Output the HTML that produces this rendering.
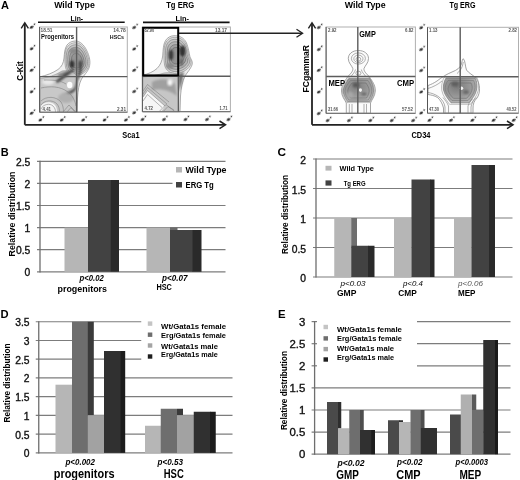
<!DOCTYPE html>
<html><head><meta charset="utf-8"><style>
html,body{margin:0;padding:0;background:#fff;}
body{width:520px;height:480px;overflow:hidden;}
svg{display:block;font-family:"Liberation Sans", sans-serif;filter:blur(0.3px);}
</style></head><body>
<svg width="520" height="480" viewBox="0 0 520 480">
<rect width="520" height="480" fill="#fff"/>
<text x="0.80" y="156.00" font-size="11" font-weight="bold" text-anchor="start" fill="#000" >B</text>
<line x1="37.00" y1="271.80" x2="225.50" y2="271.80" stroke="#7c7c7c" stroke-width="1.2" />
<text x="30.30" y="276.20" font-size="10.3" font-weight="normal" text-anchor="end" fill="#111" stroke="#111" stroke-width="0.35">0</text>
<line x1="37.00" y1="249.70" x2="225.50" y2="249.70" stroke="#7c7c7c" stroke-width="1.2" />
<text x="30.30" y="254.10" font-size="10.3" font-weight="normal" text-anchor="end" fill="#111" stroke="#111" stroke-width="0.35">0.5</text>
<line x1="37.00" y1="227.60" x2="225.50" y2="227.60" stroke="#7c7c7c" stroke-width="1.2" />
<text x="30.30" y="232.00" font-size="10.3" font-weight="normal" text-anchor="end" fill="#111" stroke="#111" stroke-width="0.35">1</text>
<line x1="37.00" y1="205.50" x2="225.50" y2="205.50" stroke="#7c7c7c" stroke-width="1.2" />
<text x="30.30" y="209.90" font-size="10.3" font-weight="normal" text-anchor="end" fill="#111" stroke="#111" stroke-width="0.35">1.5</text>
<line x1="37.00" y1="183.40" x2="172.50" y2="183.40" stroke="#7c7c7c" stroke-width="1.2" />
<text x="30.30" y="187.80" font-size="10.3" font-weight="normal" text-anchor="end" fill="#111" stroke="#111" stroke-width="0.35">2</text>
<line x1="37.00" y1="161.30" x2="225.50" y2="161.30" stroke="#7c7c7c" stroke-width="1.2" />
<text x="30.30" y="165.70" font-size="10.3" font-weight="normal" text-anchor="end" fill="#111" stroke="#111" stroke-width="0.35">2.5</text>
<line x1="40.00" y1="160.70" x2="40.00" y2="272.40" stroke="#6e6e6e" stroke-width="1.3" />
<text x="15.30" y="214.00" font-size="9" font-weight="bold" text-anchor="middle" fill="#000" textLength="85" lengthAdjust="spacingAndGlyphs" transform="rotate(-90 15.30 214.00)" >Relative distribution</text>
<rect x="64.50" y="227.60" width="23.50" height="44.20" fill="#b6b6b6" />
<rect x="88.00" y="180.00" width="23.00" height="91.80" fill="#424242" />
<rect x="110.75" y="180.00" width="8.25" height="91.80" fill="#2a2a2a" />
<rect x="146.50" y="227.60" width="23.50" height="44.20" fill="#b6b6b6" />
<rect x="170.00" y="227.60" width="7.50" height="2.40" fill="#6a6a6a" />
<rect x="170.00" y="230.00" width="23.00" height="41.80" fill="#424242" />
<rect x="192.50" y="230.00" width="9.00" height="41.80" fill="#2a2a2a" />
<rect x="176.00" y="167.00" width="6.00" height="5.50" fill="#b6b6b6" />
<rect x="176.00" y="182.00" width="6.00" height="5.50" fill="#424242" />
<text x="185.50" y="173.30" font-size="9.3" font-weight="bold" text-anchor="start" fill="#000" textLength="41" lengthAdjust="spacingAndGlyphs" >Wild Type</text>
<text x="185.50" y="188.30" font-size="9.3" font-weight="bold" text-anchor="start" fill="#000" textLength="28.3" lengthAdjust="spacingAndGlyphs" >ERG Tg</text>
<text x="79.50" y="281.00" font-size="8.4" font-weight="bold" text-anchor="start" fill="#000" textLength="24.3" lengthAdjust="spacingAndGlyphs" font-style="italic" >p&lt;0.02</text>
<text x="57.50" y="292.00" font-size="9.6" font-weight="bold" text-anchor="start" fill="#000" textLength="49.5" lengthAdjust="spacingAndGlyphs" >progenitors</text>
<text x="162.00" y="281.00" font-size="8.4" font-weight="bold" text-anchor="start" fill="#000" textLength="25.5" lengthAdjust="spacingAndGlyphs" font-style="italic" >p&lt;0.07</text>
<text x="156.40" y="290.20" font-size="9.2" font-weight="bold" text-anchor="start" fill="#000" textLength="15.5" lengthAdjust="spacingAndGlyphs" >HSC</text>
<text x="277.60" y="156.20" font-size="11.8" font-weight="bold" text-anchor="start" fill="#000" >C</text>
<line x1="313.00" y1="277.00" x2="512.50" y2="277.00" stroke="#7c7c7c" stroke-width="1.2" />
<text x="306.00" y="282.00" font-size="10.3" font-weight="normal" text-anchor="end" fill="#111" stroke="#111" stroke-width="0.35">0</text>
<line x1="313.00" y1="247.50" x2="512.50" y2="247.50" stroke="#7c7c7c" stroke-width="1.2" />
<text x="306.00" y="252.50" font-size="10.3" font-weight="normal" text-anchor="end" fill="#111" stroke="#111" stroke-width="0.35">0.5</text>
<line x1="313.00" y1="218.00" x2="512.50" y2="218.00" stroke="#7c7c7c" stroke-width="1.2" />
<text x="306.00" y="223.00" font-size="10.3" font-weight="normal" text-anchor="end" fill="#111" stroke="#111" stroke-width="0.35">1</text>
<line x1="313.00" y1="188.50" x2="512.50" y2="188.50" stroke="#7c7c7c" stroke-width="1.2" />
<text x="306.00" y="193.50" font-size="10.3" font-weight="normal" text-anchor="end" fill="#111" stroke="#111" stroke-width="0.35">1.5</text>
<line x1="313.00" y1="159.00" x2="512.50" y2="159.00" stroke="#7c7c7c" stroke-width="1.2" />
<text x="306.00" y="164.00" font-size="10.3" font-weight="normal" text-anchor="end" fill="#111" stroke="#111" stroke-width="0.35">2</text>
<line x1="316.00" y1="158.40" x2="316.00" y2="277.60" stroke="#6e6e6e" stroke-width="1.3" />
<text x="287.80" y="214.40" font-size="9" font-weight="bold" text-anchor="middle" fill="#000" textLength="79" lengthAdjust="spacingAndGlyphs" transform="rotate(-90 287.80 214.40)" >Relative distribution</text>
<rect x="334.25" y="218.00" width="17.25" height="59.00" fill="#b6b6b6" />
<rect x="351.25" y="218.00" width="5.75" height="28.00" fill="#6e6e6e" />
<rect x="351.25" y="245.75" width="17.25" height="31.25" fill="#424242" />
<rect x="368.00" y="245.75" width="6.50" height="31.25" fill="#2a2a2a" />
<rect x="394.00" y="218.00" width="17.75" height="59.00" fill="#b6b6b6" />
<rect x="411.50" y="179.50" width="19.00" height="97.50" fill="#424242" />
<rect x="430.00" y="179.50" width="4.50" height="97.50" fill="#2a2a2a" />
<rect x="454.00" y="218.00" width="17.75" height="59.00" fill="#b6b6b6" />
<rect x="471.50" y="165.00" width="18.00" height="112.00" fill="#424242" />
<rect x="489.00" y="165.00" width="6.00" height="112.00" fill="#2a2a2a" />
<rect x="325.50" y="165.80" width="6.00" height="4.80" fill="#b6b6b6" />
<rect x="325.50" y="180.40" width="6.00" height="5.20" fill="#424242" />
<text x="339.60" y="171.10" font-size="7.3" font-weight="bold" text-anchor="start" fill="#000" textLength="34.3" lengthAdjust="spacingAndGlyphs" >Wild Type</text>
<text x="343.70" y="185.60" font-size="7.3" font-weight="bold" text-anchor="start" fill="#000" textLength="21.9" lengthAdjust="spacingAndGlyphs" >Tg ERG</text>
<text x="340.50" y="286.40" font-size="7.6" font-weight="normal" text-anchor="start" fill="#000" textLength="25" lengthAdjust="spacingAndGlyphs" font-style="italic" >p&lt;0.03</text>
<text x="336.90" y="295.50" font-size="9.6" font-weight="bold" text-anchor="start" fill="#000" textLength="19.5" lengthAdjust="spacingAndGlyphs" >GMP</text>
<text x="402.90" y="286.00" font-size="7.6" font-weight="normal" text-anchor="start" fill="#000" textLength="20" lengthAdjust="spacingAndGlyphs" font-style="italic" >p&lt;0.4</text>
<text x="398.30" y="296.20" font-size="9.6" font-weight="bold" text-anchor="start" fill="#000" textLength="18.5" lengthAdjust="spacingAndGlyphs" >CMP</text>
<text x="458.00" y="286.00" font-size="7.6" font-weight="normal" text-anchor="start" fill="#555" textLength="25" lengthAdjust="spacingAndGlyphs" font-style="italic" >p&lt;0.06</text>
<text x="458.00" y="296.20" font-size="9.6" font-weight="bold" text-anchor="start" fill="#000" textLength="17.5" lengthAdjust="spacingAndGlyphs" >MEP</text>
<text x="0.60" y="318.00" font-size="11.2" font-weight="bold" text-anchor="start" fill="#000" >D</text>
<line x1="35.75" y1="452.90" x2="232.50" y2="452.90" stroke="#7c7c7c" stroke-width="1.2" />
<text x="29.60" y="457.30" font-size="10.3" font-weight="normal" text-anchor="end" fill="#111" stroke="#111" stroke-width="0.35">0</text>
<line x1="35.75" y1="434.16" x2="232.50" y2="434.16" stroke="#7c7c7c" stroke-width="1.2" />
<text x="29.60" y="438.56" font-size="10.3" font-weight="normal" text-anchor="end" fill="#111" stroke="#111" stroke-width="0.35">0.5</text>
<line x1="35.75" y1="415.43" x2="232.50" y2="415.43" stroke="#7c7c7c" stroke-width="1.2" />
<text x="29.60" y="419.83" font-size="10.3" font-weight="normal" text-anchor="end" fill="#111" stroke="#111" stroke-width="0.35">1</text>
<line x1="35.75" y1="396.69" x2="232.50" y2="396.69" stroke="#7c7c7c" stroke-width="1.2" />
<text x="29.60" y="401.09" font-size="10.3" font-weight="normal" text-anchor="end" fill="#111" stroke="#111" stroke-width="0.35">1.5</text>
<line x1="35.75" y1="377.96" x2="232.50" y2="377.96" stroke="#7c7c7c" stroke-width="1.2" />
<text x="29.60" y="382.36" font-size="10.3" font-weight="normal" text-anchor="end" fill="#111" stroke="#111" stroke-width="0.35">2</text>
<line x1="35.75" y1="359.22" x2="141.25" y2="359.22" stroke="#7c7c7c" stroke-width="1.2" />
<text x="29.60" y="363.62" font-size="10.3" font-weight="normal" text-anchor="end" fill="#111" stroke="#111" stroke-width="0.35">2.5</text>
<line x1="35.75" y1="340.49" x2="141.25" y2="340.49" stroke="#7c7c7c" stroke-width="1.2" />
<text x="29.60" y="344.89" font-size="10.3" font-weight="normal" text-anchor="end" fill="#111" stroke="#111" stroke-width="0.35">3</text>
<line x1="35.75" y1="321.75" x2="141.25" y2="321.75" stroke="#7c7c7c" stroke-width="1.2" />
<text x="29.60" y="326.15" font-size="10.3" font-weight="normal" text-anchor="end" fill="#111" stroke="#111" stroke-width="0.35">3.5</text>
<line x1="38.75" y1="321.15" x2="38.75" y2="453.50" stroke="#6e6e6e" stroke-width="1.3" />
<text x="10.30" y="383.00" font-size="9" font-weight="bold" text-anchor="middle" fill="#000" textLength="79" lengthAdjust="spacingAndGlyphs" transform="rotate(-90 10.30 383.00)" >Relative distribution</text>
<rect x="55.50" y="384.70" width="16.50" height="68.20" fill="#b6b6b6" />
<rect x="72.00" y="321.75" width="16.00" height="131.14" fill="#6e6e6e" />
<rect x="87.80" y="321.75" width="6.00" height="93.75" fill="#3a3a3a" />
<rect x="87.80" y="415.20" width="16.20" height="37.70" fill="#a2a2a2" />
<rect x="104.00" y="351.00" width="17.00" height="101.90" fill="#303030" />
<rect x="120.60" y="351.00" width="4.60" height="101.90" fill="#1c1c1c" />
<rect x="145.00" y="425.75" width="16.00" height="27.15" fill="#b6b6b6" />
<rect x="160.75" y="408.75" width="16.25" height="44.15" fill="#6e6e6e" />
<rect x="177.00" y="408.75" width="6.00" height="6.45" fill="#3a3a3a" />
<rect x="177.00" y="415.20" width="17.00" height="37.70" fill="#a2a2a2" />
<rect x="193.75" y="411.75" width="16.75" height="41.15" fill="#303030" />
<rect x="210.00" y="411.75" width="5.75" height="41.15" fill="#1c1c1c" />
<rect x="147.80" y="321.40" width="4.50" height="4.40" fill="#c4c4c4" />
<text x="161.10" y="328.50" font-size="7.7" font-weight="bold" text-anchor="start" fill="#000" textLength="64.9" lengthAdjust="spacingAndGlyphs" >Wt/Gata1s female</text>
<rect x="147.80" y="332.50" width="4.50" height="4.40" fill="#6e6e6e" />
<text x="161.10" y="337.80" font-size="7.7" font-weight="bold" text-anchor="start" fill="#000" textLength="64.9" lengthAdjust="spacingAndGlyphs" >Erg/Gata1s female</text>
<rect x="147.80" y="343.30" width="4.50" height="4.40" fill="#a4a4a4" />
<text x="161.10" y="348.70" font-size="7.7" font-weight="bold" text-anchor="start" fill="#000" textLength="56.8" lengthAdjust="spacingAndGlyphs" >Wt/Gata1s male</text>
<rect x="147.80" y="354.30" width="4.50" height="4.40" fill="#1e1e1e" />
<text x="161.10" y="357.40" font-size="7.7" font-weight="bold" text-anchor="start" fill="#000" textLength="56.8" lengthAdjust="spacingAndGlyphs" >Erg/Gata1s male</text>
<text x="65.50" y="464.50" font-size="8.4" font-weight="bold" text-anchor="start" fill="#000" textLength="29.5" lengthAdjust="spacingAndGlyphs" font-style="italic" >p&lt;0.002</text>
<text x="53.75" y="478.00" font-size="12.5" font-weight="bold" text-anchor="start" fill="#000" textLength="60.75" lengthAdjust="spacingAndGlyphs" >progenitors</text>
<text x="157.50" y="465.00" font-size="8.4" font-weight="bold" text-anchor="start" fill="#000" textLength="25.5" lengthAdjust="spacingAndGlyphs" font-style="italic" >p&lt;0.53</text>
<text x="163.75" y="477.50" font-size="12.5" font-weight="bold" text-anchor="start" fill="#000" textLength="20" lengthAdjust="spacingAndGlyphs" >HSC</text>
<text x="278.00" y="318.00" font-size="11.4" font-weight="bold" text-anchor="start" fill="#000" >E</text>
<line x1="311.60" y1="454.20" x2="510.50" y2="454.20" stroke="#7c7c7c" stroke-width="1.2" />
<text x="305.30" y="458.40" font-size="11.4" font-weight="normal" text-anchor="end" fill="#111" stroke="#111" stroke-width="0.35">0</text>
<line x1="311.60" y1="432.10" x2="510.50" y2="432.10" stroke="#7c7c7c" stroke-width="1.2" />
<text x="305.30" y="436.30" font-size="11.4" font-weight="normal" text-anchor="end" fill="#111" stroke="#111" stroke-width="0.35">0.5</text>
<line x1="311.60" y1="410.00" x2="510.50" y2="410.00" stroke="#7c7c7c" stroke-width="1.2" />
<text x="305.30" y="414.20" font-size="11.4" font-weight="normal" text-anchor="end" fill="#111" stroke="#111" stroke-width="0.35">1</text>
<line x1="311.60" y1="387.90" x2="510.50" y2="387.90" stroke="#7c7c7c" stroke-width="1.2" />
<text x="305.30" y="392.10" font-size="11.4" font-weight="normal" text-anchor="end" fill="#111" stroke="#111" stroke-width="0.35">1.5</text>
<line x1="311.60" y1="365.80" x2="317.00" y2="365.80" stroke="#7c7c7c" stroke-width="1.2" />
<line x1="417.00" y1="365.80" x2="510.50" y2="365.80" stroke="#7c7c7c" stroke-width="1.2" />
<text x="305.30" y="370.00" font-size="11.4" font-weight="normal" text-anchor="end" fill="#111" stroke="#111" stroke-width="0.35">2</text>
<line x1="311.60" y1="343.70" x2="317.00" y2="343.70" stroke="#7c7c7c" stroke-width="1.2" />
<line x1="417.00" y1="343.70" x2="510.50" y2="343.70" stroke="#7c7c7c" stroke-width="1.2" />
<text x="305.30" y="347.90" font-size="11.4" font-weight="normal" text-anchor="end" fill="#111" stroke="#111" stroke-width="0.35">2.5</text>
<line x1="311.60" y1="321.60" x2="317.00" y2="321.60" stroke="#7c7c7c" stroke-width="1.2" />
<line x1="417.00" y1="321.60" x2="510.50" y2="321.60" stroke="#7c7c7c" stroke-width="1.2" />
<text x="305.30" y="325.80" font-size="11.4" font-weight="normal" text-anchor="end" fill="#111" stroke="#111" stroke-width="0.35">3</text>
<line x1="314.60" y1="321.00" x2="314.60" y2="454.80" stroke="#6e6e6e" stroke-width="1.3" />
<text x="287.50" y="390.60" font-size="9" font-weight="bold" text-anchor="middle" fill="#000" textLength="79" lengthAdjust="spacingAndGlyphs" transform="rotate(-90 287.50 390.60)" >Relative distribution</text>
<rect x="327.00" y="402.00" width="11.50" height="52.20" fill="#4a4a4a" />
<rect x="338.00" y="402.00" width="3.25" height="26.50" fill="#2e2e2e" />
<rect x="338.00" y="428.25" width="11.50" height="25.95" fill="#b6b6b6" />
<rect x="349.25" y="410.00" width="11.25" height="44.20" fill="#6e6e6e" />
<rect x="360.00" y="410.00" width="3.75" height="20.00" fill="#4e4e4e" />
<rect x="360.00" y="430.00" width="15.00" height="24.20" fill="#303030" />
<rect x="371.25" y="430.00" width="3.75" height="24.20" fill="#1e1e1e" />
<rect x="388.00" y="420.25" width="11.50" height="33.95" fill="#4a4a4a" />
<rect x="399.00" y="420.25" width="4.00" height="1.75" fill="#2e2e2e" />
<rect x="399.00" y="422.00" width="11.75" height="32.20" fill="#b6b6b6" />
<rect x="410.50" y="410.00" width="10.50" height="44.20" fill="#6e6e6e" />
<rect x="420.75" y="410.00" width="3.75" height="18.00" fill="#4e4e4e" />
<rect x="420.75" y="428.00" width="16.25" height="26.20" fill="#303030" />
<rect x="450.00" y="414.50" width="11.00" height="39.70" fill="#4a4a4a" />
<rect x="460.75" y="394.50" width="11.50" height="59.70" fill="#b0b0b0" />
<rect x="472.00" y="394.50" width="4.25" height="15.50" fill="#5a5a5a" />
<rect x="472.00" y="410.00" width="11.50" height="44.20" fill="#6e6e6e" />
<rect x="483.25" y="340.00" width="14.75" height="114.20" fill="#303030" />
<rect x="495.00" y="340.00" width="3.00" height="114.20" fill="#1a1a1a" />
<rect x="323.50" y="324.80" width="4.50" height="4.40" fill="#c4c4c4" />
<text x="337.00" y="331.50" font-size="7.5" font-weight="bold" text-anchor="start" fill="#000" textLength="64.9" lengthAdjust="spacingAndGlyphs" >Wt/Gata1s female</text>
<rect x="323.50" y="336.20" width="4.50" height="4.40" fill="#6e6e6e" />
<text x="337.00" y="341.40" font-size="7.5" font-weight="bold" text-anchor="start" fill="#000" textLength="64.9" lengthAdjust="spacingAndGlyphs" >Erg/Gata1s female</text>
<rect x="323.50" y="346.90" width="4.50" height="4.40" fill="#a4a4a4" />
<text x="337.00" y="351.20" font-size="7.5" font-weight="bold" text-anchor="start" fill="#000" textLength="57.1" lengthAdjust="spacingAndGlyphs" >Wt/Gata1s male</text>
<rect x="323.50" y="357.30" width="4.50" height="4.40" fill="#1e1e1e" />
<text x="337.00" y="360.40" font-size="7.5" font-weight="bold" text-anchor="start" fill="#000" textLength="57.1" lengthAdjust="spacingAndGlyphs" >Erg/Gata1s male</text>
<text x="337.50" y="465.50" font-size="8.4" font-weight="bold" text-anchor="start" fill="#000" textLength="27" lengthAdjust="spacingAndGlyphs" font-style="italic" >p&lt;0.02</text>
<text x="336.25" y="479.00" font-size="12.5" font-weight="bold" text-anchor="start" fill="#000" textLength="22.5" lengthAdjust="spacingAndGlyphs" >GMP</text>
<text x="397.00" y="465.00" font-size="8.4" font-weight="bold" text-anchor="start" fill="#000" textLength="25.5" lengthAdjust="spacingAndGlyphs" font-style="italic" >p&lt;0.02</text>
<text x="396.25" y="479.00" font-size="12.5" font-weight="bold" text-anchor="start" fill="#000" textLength="24.25" lengthAdjust="spacingAndGlyphs" >CMP</text>
<text x="455.50" y="465.00" font-size="8.4" font-weight="bold" text-anchor="start" fill="#000" textLength="32.5" lengthAdjust="spacingAndGlyphs" font-style="italic" >p&lt;0.0003</text>
<text x="459.50" y="479.00" font-size="12.5" font-weight="bold" text-anchor="start" fill="#000" textLength="21.75" lengthAdjust="spacingAndGlyphs" >MEP</text>
<text x="1.00" y="8.80" font-size="11" font-weight="bold" text-anchor="start" fill="#000" >A</text>
<text x="54.20" y="8.40" font-size="8.6" font-weight="bold" text-anchor="start" fill="#000" textLength="40.6" lengthAdjust="spacingAndGlyphs" >Wild Type</text>
<text x="166.20" y="8.40" font-size="8.6" font-weight="bold" text-anchor="start" fill="#000" textLength="28" lengthAdjust="spacingAndGlyphs" >Tg ERG</text>
<text x="344.70" y="8.40" font-size="8.6" font-weight="bold" text-anchor="start" fill="#000" textLength="41" lengthAdjust="spacingAndGlyphs" >Wild Type</text>
<text x="449.40" y="8.40" font-size="8.6" font-weight="bold" text-anchor="start" fill="#000" textLength="26.2" lengthAdjust="spacingAndGlyphs" >Tg ERG</text>
<line x1="38.00" y1="22.20" x2="124.70" y2="22.20" stroke="#111" stroke-width="1.6" />
<line x1="143.00" y1="22.40" x2="229.60" y2="22.40" stroke="#111" stroke-width="1.6" />
<text x="70.60" y="21.20" font-size="7" font-weight="bold" text-anchor="start" fill="#000" textLength="12.5" lengthAdjust="spacingAndGlyphs" >Lin-</text>
<text x="175.40" y="21.20" font-size="7" font-weight="bold" text-anchor="start" fill="#000" textLength="13.6" lengthAdjust="spacingAndGlyphs" >Lin-</text>
<defs>
<filter id="bl" x="-20%" y="-20%" width="140%" height="140%"><feGaussianBlur stdDeviation="0.9"/></filter>
<filter id="bl2" x="-20%" y="-20%" width="140%" height="140%"><feGaussianBlur stdDeviation="1.8"/></filter>
<filter id="bl3" x="-20%" y="-20%" width="140%" height="140%"><feGaussianBlur stdDeviation="0.45"/></filter>
</defs>
<g>
<path d="M75.5 41 C80 41 84 45 86.5 50 C89.5 56 91 62 89 68 C87.5 72 84 75 81.5 79 C79 84 78 90 77.5 98 L77 112 L40 112 L40 76.8 C46 75.5 53 73 58 69.5 C62 66.5 63.5 63 64 58 C64.5 53 64.5 49 67 45 C69 42.5 72 41 75.5 41 Z" fill="#f0f0f0" stroke="#8a8a8a" stroke-width="0.7"/>
<path d="M75.5 41 C80 41 84 45 86.5 50 C89.5 56 91 62 89 68 C87 73 82 76 77 76.5 C71 77 66 74 64.5 68 C63.5 63 63.5 55 64.5 50 C65.5 45 70 41 75.5 41 Z" transform="translate(6.16 4.96) scale(0.92)" fill="#d8d8d8" stroke="#8a8a8a" stroke-width="0.65"/>
<path d="M75.5 41 C80 41 84 45 86.5 50 C89.5 56 91 62 89 68 C87 73 82 76 77 76.5 C71 77 66 74 64.5 68 C63.5 63 63.5 55 64.5 50 C65.5 45 70 41 75.5 41 Z" transform="translate(13.86 11.16) scale(0.82)" fill="#c6c6c6" stroke="#7a7a7a" stroke-width="0.73"/>
<path d="M75.5 41 C80 41 84 45 86.5 50 C89.5 56 91 62 89 68 C87 73 82 76 77 76.5 C71 77 66 74 64.5 68 C63.5 63 63.5 55 64.5 50 C65.5 45 70 41 75.5 41 Z" transform="translate(23.10 18.60) scale(0.7)" fill="#b4b4b4" stroke="#707070" stroke-width="0.86"/>
<path d="M75.5 41 C80 41 84 45 86.5 50 C89.5 56 91 62 89 68 C87 73 82 76 77 76.5 C71 77 66 74 64.5 68 C63.5 63 63.5 55 64.5 50 C65.5 45 70 41 75.5 41 Z" transform="translate(33.88 27.28) scale(0.56)" fill="#a2a2a2" stroke="#666" stroke-width="1.07"/>
<path d="M75.5 41 C80 41 84 45 86.5 50 C89.5 56 91 62 89 68 C87 73 82 76 77 76.5 C71 77 66 74 64.5 68 C63.5 63 63.5 55 64.5 50 C65.5 45 70 41 75.5 41 Z" transform="translate(44.66 35.96) scale(0.42)" fill="#949494" stroke="#606060" stroke-width="1.43"/>
<path d="M40 78.5 C48 77.5 56 75 62 71 C68 70 74 72 77 76 L77 112 L40 112 Z" fill="#c8c8c8" stroke="#8a8a8a" stroke-width="0.5"/>
<g filter="url(#bl)">
<ellipse cx="72" cy="64.3" rx="2.4" ry="3.8" fill="#333"/>
<ellipse cx="80.3" cy="65" rx="1.8" ry="4.5" fill="#3a3a3a"/>
<ellipse cx="74" cy="51" rx="5" ry="3" fill="#8a8a8a"/>
<path d="M55.5 81 L72.5 68.5 L74.5 70.5 L57.5 83 Z" fill="#404040"/>
<path d="M57.5 75 L71.5 69.5 L72.5 71 L59 76.5 Z" fill="#606060"/>
<path d="M62 94 C67 92 72 91 74.5 88 C76 85 76.5 81 77 77 L78 77 C78 82 77 87 75.5 90 C73 93.5 68 95 63 95.5 Z" fill="#4a4a4a"/>
<path d="M77.5 82 L81.5 72 L82.5 64 L80 62 L78.5 72 L77 79 Z" fill="#505050"/>
<ellipse cx="66" cy="98" rx="8" ry="5" fill="#b0b0b0"/>
<ellipse cx="48" cy="82" rx="6" ry="3" fill="#e8e8e8"/>
</g>
<ellipse cx="69.7" cy="85" rx="2.7" ry="3.2" fill="#fcfcfc" filter="url(#bl3)"/>
<path d="M41 112 L41 106 C43 102 50 101 54 104 C56.5 106 57 109 57 112 Z" fill="#f4f4f4"/>
<g fill="none" stroke="#7a7a7a" stroke-width="0.55" filter="url(#bl3)">
<path d="M41 109 C43 104 50 103 53 106 C55 108 55.5 110 55.5 112"/>
<path d="M41 105 C44 100 53 99.5 57 104 C59 106.5 59.5 109 59.5 112"/>
<path d="M41 101 C46 96 56 96 61 102 C63 105 63.5 109 63.5 112"/>
<path d="M63 112 L69 105 L75 112"/>
<path d="M67 112 L71 107.5 L76 112"/>
<path d="M41 88 C50 86 60 86 68 92 C73 96 75 101 76 106"/>
<path d="M44 80 C52 80 60 80 66 84"/>
</g>
</g>
<rect x="39.6" y="27" width="87.7" height="85.2" fill="none" stroke="#b0b0b0" stroke-width="1"/>
<line x1="39.60" y1="27.00" x2="39.60" y2="112.20" stroke="#555" stroke-width="1" />
<line x1="39.60" y1="112.20" x2="127.30" y2="112.20" stroke="#666" stroke-width="1" />
<line x1="76.60" y1="27.00" x2="76.60" y2="112.20" stroke="#5c5c5c" stroke-width="1.4" />
<line x1="39.60" y1="76.60" x2="127.30" y2="76.60" stroke="#5c5c5c" stroke-width="1.4" />
<path d="M174 35.7 C179 35.5 184 37.5 186.5 43 C188.5 48 189 53 190 57 C191.5 60 193 62 192 65 C190.5 69 187.5 72 185 76 C182.5 81 181 88 180.5 96 L180 111.7 L143 111.7 L143 75 C148 74 153 72 157 68.5 C160.5 65 162 61 162.7 56 C163.2 50 163 45 165.5 40.5 C167.5 37.5 170.5 35.8 174 35.7 Z" fill="#eeeeee" stroke="#8a8a8a" stroke-width="0.7"/>
<path d="M174 35.7 C179 35.5 184 37.5 186.5 43 C188.5 48 189 53 190 57 C191.5 60 193 62 192 65 C190 70 184 74 177 75 C170 75.5 165 72 163.5 66 C162.5 61 162.5 50 163.5 45 C165 39 169 35.8 174 35.7 Z" transform="translate(14.16 4.48) scale(0.92)" fill="#d6d6d6" stroke="#8a8a8a" stroke-width="0.65"/>
<path d="M174 35.7 C179 35.5 184 37.5 186.5 43 C188.5 48 189 53 190 57 C191.5 60 193 62 192 65 C190 70 184 74 177 75 C170 75.5 165 72 163.5 66 C162.5 61 162.5 50 163.5 45 C165 39 169 35.8 174 35.7 Z" transform="translate(31.86 10.08) scale(0.82)" fill="#c4c4c4" stroke="#7a7a7a" stroke-width="0.73"/>
<path d="M174 35.7 C179 35.5 184 37.5 186.5 43 C188.5 48 189 53 190 57 C191.5 60 193 62 192 65 C190 70 184 74 177 75 C170 75.5 165 72 163.5 66 C162.5 61 162.5 50 163.5 45 C165 39 169 35.8 174 35.7 Z" transform="translate(53.10 16.80) scale(0.7)" fill="#b2b2b2" stroke="#707070" stroke-width="0.86"/>
<path d="M174 35.7 C179 35.5 184 37.5 186.5 43 C188.5 48 189 53 190 57 C191.5 60 193 62 192 65 C190 70 184 74 177 75 C170 75.5 165 72 163.5 66 C162.5 61 162.5 50 163.5 45 C165 39 169 35.8 174 35.7 Z" transform="translate(77.88 24.64) scale(0.56)" fill="#a0a0a0" stroke="#666" stroke-width="1.07"/>
<path d="M174 35.7 C179 35.5 184 37.5 186.5 43 C188.5 48 189 53 190 57 C191.5 60 193 62 192 65 C190 70 184 74 177 75 C170 75.5 165 72 163.5 66 C162.5 61 162.5 50 163.5 45 C165 39 169 35.8 174 35.7 Z" transform="translate(102.66 32.48) scale(0.42)" fill="#929292" stroke="#606060" stroke-width="1.43"/>
<path d="M143 77 C150 76.5 158 75 164 73 C170 72 176 73 178.5 76 L178.5 111.7 L143 111.7 Z" fill="#c6c6c6" stroke="#8a8a8a" stroke-width="0.5"/>
<g filter="url(#bl)">
<ellipse cx="171" cy="55" rx="2.4" ry="5" fill="#3a3a3a"/>
<ellipse cx="182.5" cy="51" rx="3" ry="5.5" fill="#333"/>
<ellipse cx="181.5" cy="62" rx="1.6" ry="4" fill="#666"/>
<ellipse cx="170" cy="66" rx="4" ry="3" fill="#8a8a8a"/>
<path d="M152 82 C160 78 168 78 175 84 L177 96 C170 90 160 88 152 90 Z" fill="#a0a0a0"/>
<path d="M178.5 74 L184 72 L182 82 L179 92 Z" fill="#6a6a6a"/>
</g>
<ellipse cx="170" cy="82.5" rx="2.6" ry="3.2" fill="#f6f6f6" filter="url(#bl)"/>
<path d="M143 97 L147.5 90.5 L165 106 L161 111.7 L143 111.7 Z" fill="#f6f6f6"/>
<g fill="none" stroke="#7a7a7a" stroke-width="0.55" filter="url(#bl3)">
<path d="M143 97 L147.5 90.5 L165 106"/>
<path d="M143 94 L147.5 87.5 L167 104"/>
<path d="M143 91 L147.5 84.5 L169 102"/>
<path d="M143 101 L147.5 94.5 L162 107.5"/>
<path d="M159 111.7 L166 104.5 L175 111.7"/>
<path d="M163 111.7 L168 106.5 L174 110"/>
</g>
<rect x="142.4" y="27" width="88" height="84.7" fill="none" stroke="#b0b0b0" stroke-width="1"/>
<line x1="142.40" y1="27.00" x2="142.40" y2="111.70" stroke="#555" stroke-width="1" />
<line x1="142.40" y1="111.70" x2="230.40" y2="111.70" stroke="#666" stroke-width="1" />
<line x1="178.40" y1="76.20" x2="230.40" y2="76.20" stroke="#5c5c5c" stroke-width="1.4" />
<line x1="178.40" y1="76.00" x2="178.40" y2="111.70" stroke="#5c5c5c" stroke-width="1.4" />
<line x1="142.40" y1="76.20" x2="178.40" y2="76.20" stroke="#5c5c5c" stroke-width="1.4" />
<rect x="143.2" y="27.8" width="35" height="47.6" fill="none" stroke="#000" stroke-width="2"/>
<line x1="179.00" y1="33.20" x2="302.00" y2="33.20" stroke="#222" stroke-width="1.4" />
<path d="M296.5 29.2 L302.6 33.2 L296.5 37.2" fill="none" stroke="#222" stroke-width="1.3"/>
<line x1="24.80" y1="23.50" x2="24.80" y2="124.80" stroke="#222" stroke-width="1.8" />
<path d="M21.2 28.3 L24.8 22.8 L28.4 28.3" fill="none" stroke="#222" stroke-width="1.4"/>
<line x1="24.80" y1="124.80" x2="225.00" y2="124.80" stroke="#222" stroke-width="1.8" />
<path d="M219.5 121 L225.5 124.8 L219.5 128.6" fill="none" stroke="#222" stroke-width="1.5"/>
<text x="23.30" y="71.00" font-size="8.6" font-weight="bold" text-anchor="middle" fill="#000" textLength="19.5" lengthAdjust="spacingAndGlyphs" transform="rotate(-90 23.30 71.00)" >C-Kit</text>
<text x="122.30" y="137.50" font-size="9.6" font-weight="bold" text-anchor="start" fill="#000" textLength="17.3" lengthAdjust="spacingAndGlyphs" >Sca1</text>
<line x1="312.00" y1="23.50" x2="312.00" y2="124.80" stroke="#222" stroke-width="1.8" />
<path d="M308.4 28.3 L312 22.8 L315.6 28.3" fill="none" stroke="#222" stroke-width="1.4"/>
<line x1="312.00" y1="124.80" x2="512.50" y2="124.80" stroke="#222" stroke-width="1.8" />
<path d="M507 121 L513 124.8 L507 128.6" fill="none" stroke="#222" stroke-width="1.5"/>
<text x="309.30" y="68.70" font-size="8.6" font-weight="bold" text-anchor="middle" fill="#000" textLength="47.5" lengthAdjust="spacingAndGlyphs" transform="rotate(-90 309.30 68.70)" >FCgammaR</text>
<text x="411.50" y="138.00" font-size="9.6" font-weight="bold" text-anchor="start" fill="#000" textLength="19" lengthAdjust="spacingAndGlyphs" >CD34</text>
<defs><radialGradient id="g3" cx="0.45" cy="0.35" r="0.7"><stop offset="0" stop-color="#7e7e7e"/><stop offset="0.6" stop-color="#9c9c9c"/><stop offset="1" stop-color="#b4b4b4"/></radialGradient><radialGradient id="g4" cx="0.4" cy="0.35" r="0.7"><stop offset="0" stop-color="#7a7a7a"/><stop offset="0.6" stop-color="#9a9a9a"/><stop offset="1" stop-color="#b6b6b6"/></radialGradient></defs>
<path d="M358.4 50.5 C364.5 50.5 368.5 54 368.5 58.5 C368.5 63 365 65.5 364 68.5 C363.5 71.5 367 74 369.5 77 C372 81 375.5 85 375.3 91 C375 96.5 371.5 100 370.5 103 L370.5 113.3 L346.3 113.3 L346.3 103 C345 100 341.5 96.5 341.5 91 C341.5 85 345 81 347.5 77 C350 74 353.3 71.5 352.8 68.5 C351.8 65.5 348.3 63 348.3 58.5 C348.3 54 352.3 50.5 358.4 50.5 Z" fill="#fbfbfb" stroke="#858585" stroke-width="0.75"/>
<path d="M348.8 78.6 L369.8 78.6 C371.8 82 373.8 86.5 373.6 91 C373.3 95.5 371.2 98.5 369.6 101.5 L347.5 101.5 C345.8 98.5 343.4 95.5 343.2 91 C343.2 86.5 346.5 82 348.8 78.6 Z" fill="url(#g3)" stroke="#6a6a6a" stroke-width="0.6"/>
<path d="M349.5 76.8 L368.5 76.8 C371 80.5 374.4 85.5 374.3 91 C374 96.5 371.3 99.5 369.8 102.6 L347 102.6 C345.5 99.5 342.5 96.5 342.4 91 C342.3 85.5 346.5 80.5 349.5 76.8 Z" fill="none" stroke="#8a8a8a" stroke-width="0.55"/>
<path d="M350.5 80.5 L368 80.5 C370 83.5 372 87 371.8 91 C371.5 95 369.7 97.5 368.3 100 L348.8 100 C347.3 97.5 345.2 95 345 91 C345 87 348.2 83.5 350.5 80.5 Z" fill="none" stroke="#707070" stroke-width="0.5"/>
<path d="M352 83 L366 83 C367.5 85.5 369.3 88 369.2 91 C369 94 367.6 96 366.5 98 L350.5 98 C349.5 96 347.9 94 347.8 91 C347.8 88 350.2 85.5 352 83 Z" fill="none" stroke="#666" stroke-width="0.5"/>
<g filter="url(#bl)">
<ellipse cx="356" cy="85" rx="3.5" ry="2.5" fill="#5a5a5a"/>
<ellipse cx="364" cy="94" rx="2.8" ry="1.6" fill="#666"/>
<ellipse cx="350" cy="95" rx="3" ry="3" fill="#a8a8a8"/>
</g>
<ellipse cx="360.4" cy="90.1" rx="1.6" ry="1.8" fill="#f4f4f4" filter="url(#bl3)"/>
<g fill="none" stroke="#7a7a7a" stroke-width="0.6" filter="url(#bl3)">
<ellipse cx="358.4" cy="58.5" rx="7" ry="5.6"/>
<ellipse cx="358.4" cy="58.8" rx="4.6" ry="3.7"/>
<ellipse cx="358.4" cy="59.2" rx="2.4" ry="2"/>
<path d="M349.3 113.3 L349.3 104 M366.5 113.3 L366.5 104 M352 113.3 L352 104 M364 113.3 L364 104"/>
<path d="M350.5 77 C352.5 74.5 355 72 355.5 69.5 M366.3 77 C364.3 74.5 361.8 72 361.3 69.5"/>
<ellipse cx="358.4" cy="73.2" rx="2.6" ry="2"/>
</g>
<rect x="326.1" y="27" width="89.3" height="86.3" fill="none" stroke="#b0b0b0" stroke-width="1"/>
<line x1="326.10" y1="27.00" x2="326.10" y2="113.30" stroke="#555" stroke-width="1" />
<line x1="326.10" y1="113.30" x2="415.40" y2="113.30" stroke="#666" stroke-width="1" />
<line x1="357.80" y1="27.00" x2="357.80" y2="113.30" stroke="#5c5c5c" stroke-width="1.4" />
<line x1="326.10" y1="76.50" x2="415.40" y2="76.50" stroke="#5c5c5c" stroke-width="1.4" />
<text x="359.20" y="36.50" font-size="8.6" font-weight="bold" text-anchor="start" fill="#000" textLength="16.6" lengthAdjust="spacingAndGlyphs" >GMP</text>
<text x="328.40" y="85.80" font-size="8.6" font-weight="bold" text-anchor="start" fill="#000" textLength="16.6" lengthAdjust="spacingAndGlyphs" >MEP</text>
<text x="397.00" y="85.80" font-size="8.6" font-weight="bold" text-anchor="start" fill="#000" textLength="17.2" lengthAdjust="spacingAndGlyphs" >CMP</text>
<path d="M463.3 58.7 C465.5 61 465 66 466.5 70 C468.5 73 473 75 476 78 C480.5 84 480.5 93 477 98 C474 101 473 104 473 108 L473 113.2 L443.5 113.2 L443.5 108 C442.5 104 440.5 100 437.5 97.5 C434.5 95.5 431 95 428 94.5 L428 85.5 C431 84.5 434 83 437 81 C442 77 447 74 452 72 C457 70 460 68 461.5 64 C462 61 462.5 59 463.3 58.7 Z" fill="#fbfbfb" stroke="#858585" stroke-width="0.75"/>
<path d="M446 78 L475 78 C477 81 477.5 86 476.5 90 C475.5 95 472 99 469 102.8 L451 102.8 C448 99 444.5 95 443.5 90 C442.8 86 444 81 446 78 Z" fill="url(#g4)" stroke="#6a6a6a" stroke-width="0.6"/>
<path d="M444.5 76.8 L476.5 76.8 C478.7 80.5 479.2 86 478.2 90.5 C477 96 473.5 100 470.5 104.3 L449.5 104.3 C446.5 100 442.8 96 441.8 90.5 C441 86 442.3 80.5 444.5 76.8 Z" fill="none" stroke="#8a8a8a" stroke-width="0.55"/>
<path d="M448 80.5 L473.5 80.5 C475 83 475.5 87 474.6 90 C473.6 94 470.8 97.5 468 100.5 L452 100.5 C449.2 97.5 446.4 94 445.4 90 C444.6 87 446.2 83 448 80.5 Z" fill="none" stroke="#707070" stroke-width="0.5"/>
<path d="M450.5 83 L471 83 C472.2 85 472.5 88 471.8 90.3 C471 93.5 468.8 96 466.5 98.3 L453.5 98.3 C451.2 96 449 93.5 448.2 90.3 C447.6 88 449 85 450.5 83 Z" fill="none" stroke="#666" stroke-width="0.5"/>
<g filter="url(#bl)">
<ellipse cx="455" cy="84" rx="4" ry="2.5" fill="#5e5e5e"/>
<ellipse cx="466" cy="92" rx="3" ry="2" fill="#6a6a6a"/>
</g>
<ellipse cx="461.5" cy="88.3" rx="1.7" ry="1.8" fill="#f2f2f2" filter="url(#bl3)"/>
<g fill="none" stroke="#7a7a7a" stroke-width="0.6" filter="url(#bl3)">
<path d="M445 113.2 L445 107 C444.5 103 442 99.5 439 97 C435 94 431 93 428 92.5"/>
<path d="M448.5 113.2 L448.5 106 C447.5 103 445 100 443 97.5"/>
<path d="M471 113.2 L471 107 C471.5 103 474 100 476 97.5"/>
<path d="M468 113.2 L468 106 C469 103 471 100.5 472.5 99"/>
<path d="M428 88.5 C433 87 438 84.5 442 81"/>
<path d="M463.3 62 C462.5 66 461.5 70 457 73.5"/>
</g>
<rect x="427.5" y="27.3" width="91" height="85.9" fill="none" stroke="#b0b0b0" stroke-width="1"/>
<line x1="427.50" y1="27.30" x2="427.50" y2="113.20" stroke="#555" stroke-width="1" />
<line x1="427.50" y1="113.20" x2="518.50" y2="113.20" stroke="#666" stroke-width="1" />
<line x1="460.20" y1="27.30" x2="460.20" y2="113.20" stroke="#5c5c5c" stroke-width="1.4" />
<line x1="427.50" y1="76.80" x2="518.50" y2="76.80" stroke="#5c5c5c" stroke-width="1.4" />
<text x="40.50" y="32.20" font-size="4.6" font-weight="bold" text-anchor="start" fill="#555" textLength="12" lengthAdjust="spacingAndGlyphs" >18.51</text>
<text x="113.20" y="32.20" font-size="4.6" font-weight="bold" text-anchor="start" fill="#555" textLength="12.5" lengthAdjust="spacingAndGlyphs" >14.78</text>
<text x="41.00" y="39.30" font-size="6.6" font-weight="bold" text-anchor="start" fill="#111" textLength="33" lengthAdjust="spacingAndGlyphs" >Progenitors</text>
<text x="109.80" y="38.60" font-size="6" font-weight="bold" text-anchor="start" fill="#111" textLength="14.2" lengthAdjust="spacingAndGlyphs" >HSCs</text>
<text x="42.50" y="110.60" font-size="4.6" font-weight="bold" text-anchor="start" fill="#555" textLength="8.5" lengthAdjust="spacingAndGlyphs" >4.41</text>
<text x="117.00" y="110.60" font-size="4.6" font-weight="bold" text-anchor="start" fill="#555" textLength="9" lengthAdjust="spacingAndGlyphs" >2.31</text>
<text x="144.50" y="32.00" font-size="4.6" font-weight="bold" text-anchor="start" fill="#555" textLength="9.5" lengthAdjust="spacingAndGlyphs" >82.90</text>
<text x="215.00" y="32.00" font-size="4.6" font-weight="bold" text-anchor="start" fill="#555" textLength="12" lengthAdjust="spacingAndGlyphs" >13.17</text>
<text x="144.50" y="110.30" font-size="4.6" font-weight="bold" text-anchor="start" fill="#555" textLength="8.5" lengthAdjust="spacingAndGlyphs" >4.72</text>
<text x="219.50" y="110.30" font-size="4.6" font-weight="bold" text-anchor="start" fill="#555" textLength="8" lengthAdjust="spacingAndGlyphs" >1.71</text>
<text x="328.00" y="32.00" font-size="4.6" font-weight="bold" text-anchor="start" fill="#555" textLength="8.5" lengthAdjust="spacingAndGlyphs" >2.92</text>
<text x="405.00" y="32.00" font-size="4.6" font-weight="bold" text-anchor="start" fill="#555" textLength="8.5" lengthAdjust="spacingAndGlyphs" >6.82</text>
<text x="328.00" y="110.50" font-size="4.6" font-weight="bold" text-anchor="start" fill="#555" textLength="10" lengthAdjust="spacingAndGlyphs" >31.66</text>
<text x="402.00" y="110.50" font-size="4.6" font-weight="bold" text-anchor="start" fill="#555" textLength="11" lengthAdjust="spacingAndGlyphs" >57.52</text>
<text x="429.00" y="32.00" font-size="4.6" font-weight="bold" text-anchor="start" fill="#555" textLength="8.5" lengthAdjust="spacingAndGlyphs" >1.13</text>
<text x="508.50" y="32.00" font-size="4.6" font-weight="bold" text-anchor="start" fill="#555" textLength="8.5" lengthAdjust="spacingAndGlyphs" >2.82</text>
<text x="429.00" y="110.50" font-size="4.6" font-weight="bold" text-anchor="start" fill="#555" textLength="10" lengthAdjust="spacingAndGlyphs" >47.30</text>
<text x="506.50" y="110.50" font-size="4.6" font-weight="bold" text-anchor="start" fill="#555" textLength="10" lengthAdjust="spacingAndGlyphs" >40.52</text>
<ellipse cx="31.6" cy="27.2" rx="1.9" ry="1.25" transform="rotate(-30 31.6 27.2)" fill="#333" filter="url(#bl3)"/>
<ellipse cx="34.5" cy="24.2" rx="0.75" ry="1.05" transform="rotate(30 34.5 24.2)" fill="#444" filter="url(#bl3)"/>
<ellipse cx="31.6" cy="48.7" rx="1.9" ry="1.25" transform="rotate(-30 31.6 48.7)" fill="#333" filter="url(#bl3)"/>
<ellipse cx="34.5" cy="45.7" rx="0.75" ry="1.05" transform="rotate(30 34.5 45.7)" fill="#444" filter="url(#bl3)"/>
<ellipse cx="31.6" cy="70.3" rx="1.9" ry="1.25" transform="rotate(-30 31.6 70.3)" fill="#333" filter="url(#bl3)"/>
<ellipse cx="34.5" cy="67.3" rx="0.75" ry="1.05" transform="rotate(30 34.5 67.3)" fill="#444" filter="url(#bl3)"/>
<ellipse cx="31.6" cy="91.8" rx="1.9" ry="1.25" transform="rotate(-30 31.6 91.8)" fill="#333" filter="url(#bl3)"/>
<ellipse cx="34.5" cy="88.8" rx="0.75" ry="1.05" transform="rotate(30 34.5 88.8)" fill="#444" filter="url(#bl3)"/>
<ellipse cx="31.6" cy="113.2" rx="1.9" ry="1.25" transform="rotate(-30 31.6 113.2)" fill="#333" filter="url(#bl3)"/>
<ellipse cx="34.5" cy="110.2" rx="0.75" ry="1.05" transform="rotate(30 34.5 110.2)" fill="#444" filter="url(#bl3)"/>
<ellipse cx="134.2" cy="27.5" rx="1.9" ry="1.25" transform="rotate(-30 134.2 27.5)" fill="#333" filter="url(#bl3)"/>
<ellipse cx="137.1" cy="24.5" rx="0.75" ry="1.05" transform="rotate(30 137.1 24.5)" fill="#444" filter="url(#bl3)"/>
<ellipse cx="134.2" cy="49.0" rx="1.9" ry="1.25" transform="rotate(-30 134.2 49.0)" fill="#333" filter="url(#bl3)"/>
<ellipse cx="137.1" cy="46.0" rx="0.75" ry="1.05" transform="rotate(30 137.1 46.0)" fill="#444" filter="url(#bl3)"/>
<ellipse cx="134.2" cy="70.3" rx="1.9" ry="1.25" transform="rotate(-30 134.2 70.3)" fill="#333" filter="url(#bl3)"/>
<ellipse cx="137.1" cy="67.3" rx="0.75" ry="1.05" transform="rotate(30 137.1 67.3)" fill="#444" filter="url(#bl3)"/>
<ellipse cx="134.2" cy="91.5" rx="1.9" ry="1.25" transform="rotate(-30 134.2 91.5)" fill="#333" filter="url(#bl3)"/>
<ellipse cx="137.1" cy="88.5" rx="0.75" ry="1.05" transform="rotate(30 137.1 88.5)" fill="#444" filter="url(#bl3)"/>
<ellipse cx="134.2" cy="112.8" rx="1.9" ry="1.25" transform="rotate(-30 134.2 112.8)" fill="#333" filter="url(#bl3)"/>
<ellipse cx="137.1" cy="109.8" rx="0.75" ry="1.05" transform="rotate(30 137.1 109.8)" fill="#444" filter="url(#bl3)"/>
<ellipse cx="318.8" cy="27.5" rx="1.9" ry="1.25" transform="rotate(-30 318.8 27.5)" fill="#333" filter="url(#bl3)"/>
<ellipse cx="321.7" cy="24.5" rx="0.75" ry="1.05" transform="rotate(30 321.7 24.5)" fill="#444" filter="url(#bl3)"/>
<ellipse cx="318.8" cy="49.4" rx="1.9" ry="1.25" transform="rotate(-30 318.8 49.4)" fill="#333" filter="url(#bl3)"/>
<ellipse cx="321.7" cy="46.4" rx="0.75" ry="1.05" transform="rotate(30 321.7 46.4)" fill="#444" filter="url(#bl3)"/>
<ellipse cx="318.8" cy="70.3" rx="1.9" ry="1.25" transform="rotate(-30 318.8 70.3)" fill="#333" filter="url(#bl3)"/>
<ellipse cx="321.7" cy="67.3" rx="0.75" ry="1.05" transform="rotate(30 321.7 67.3)" fill="#444" filter="url(#bl3)"/>
<ellipse cx="318.8" cy="92.0" rx="1.9" ry="1.25" transform="rotate(-30 318.8 92.0)" fill="#333" filter="url(#bl3)"/>
<ellipse cx="321.7" cy="89.0" rx="0.75" ry="1.05" transform="rotate(30 321.7 89.0)" fill="#444" filter="url(#bl3)"/>
<ellipse cx="318.8" cy="113.6" rx="1.9" ry="1.25" transform="rotate(-30 318.8 113.6)" fill="#333" filter="url(#bl3)"/>
<ellipse cx="321.7" cy="110.6" rx="0.75" ry="1.05" transform="rotate(30 321.7 110.6)" fill="#444" filter="url(#bl3)"/>
<ellipse cx="421.2" cy="27.8" rx="1.9" ry="1.25" transform="rotate(-30 421.2 27.8)" fill="#333" filter="url(#bl3)"/>
<ellipse cx="424.1" cy="24.8" rx="0.75" ry="1.05" transform="rotate(30 424.1 24.8)" fill="#444" filter="url(#bl3)"/>
<ellipse cx="421.2" cy="49.6" rx="1.9" ry="1.25" transform="rotate(-30 421.2 49.6)" fill="#333" filter="url(#bl3)"/>
<ellipse cx="424.1" cy="46.6" rx="0.75" ry="1.05" transform="rotate(30 424.1 46.6)" fill="#444" filter="url(#bl3)"/>
<ellipse cx="421.2" cy="70.5" rx="1.9" ry="1.25" transform="rotate(-30 421.2 70.5)" fill="#333" filter="url(#bl3)"/>
<ellipse cx="424.1" cy="67.5" rx="0.75" ry="1.05" transform="rotate(30 424.1 67.5)" fill="#444" filter="url(#bl3)"/>
<ellipse cx="421.2" cy="92.0" rx="1.9" ry="1.25" transform="rotate(-30 421.2 92.0)" fill="#333" filter="url(#bl3)"/>
<ellipse cx="424.1" cy="89.0" rx="0.75" ry="1.05" transform="rotate(30 424.1 89.0)" fill="#444" filter="url(#bl3)"/>
<ellipse cx="421.2" cy="113.0" rx="1.9" ry="1.25" transform="rotate(-30 421.2 113.0)" fill="#333" filter="url(#bl3)"/>
<ellipse cx="424.1" cy="110.0" rx="0.75" ry="1.05" transform="rotate(30 424.1 110.0)" fill="#444" filter="url(#bl3)"/>
<ellipse cx="40.4" cy="120.1" rx="1.9" ry="1.25" transform="rotate(-30 40.4 120.1)" fill="#333" filter="url(#bl3)"/>
<ellipse cx="43.3" cy="117.1" rx="0.75" ry="1.05" transform="rotate(30 43.3 117.1)" fill="#444" filter="url(#bl3)"/>
<ellipse cx="61.8" cy="120.1" rx="1.9" ry="1.25" transform="rotate(-30 61.8 120.1)" fill="#333" filter="url(#bl3)"/>
<ellipse cx="64.7" cy="117.1" rx="0.75" ry="1.05" transform="rotate(30 64.7 117.1)" fill="#444" filter="url(#bl3)"/>
<ellipse cx="83.2" cy="120.1" rx="1.9" ry="1.25" transform="rotate(-30 83.2 120.1)" fill="#333" filter="url(#bl3)"/>
<ellipse cx="86.1" cy="117.1" rx="0.75" ry="1.05" transform="rotate(30 86.1 117.1)" fill="#444" filter="url(#bl3)"/>
<ellipse cx="104.6" cy="120.1" rx="1.9" ry="1.25" transform="rotate(-30 104.6 120.1)" fill="#333" filter="url(#bl3)"/>
<ellipse cx="107.5" cy="117.1" rx="0.75" ry="1.05" transform="rotate(30 107.5 117.1)" fill="#444" filter="url(#bl3)"/>
<ellipse cx="126.0" cy="120.1" rx="1.9" ry="1.25" transform="rotate(-30 126.0 120.1)" fill="#333" filter="url(#bl3)"/>
<ellipse cx="128.9" cy="117.1" rx="0.75" ry="1.05" transform="rotate(30 128.9 117.1)" fill="#444" filter="url(#bl3)"/>
<ellipse cx="142.5" cy="119.5" rx="1.9" ry="1.25" transform="rotate(-30 142.5 119.5)" fill="#333" filter="url(#bl3)"/>
<ellipse cx="145.4" cy="116.5" rx="0.75" ry="1.05" transform="rotate(30 145.4 116.5)" fill="#444" filter="url(#bl3)"/>
<ellipse cx="164.0" cy="119.5" rx="1.9" ry="1.25" transform="rotate(-30 164.0 119.5)" fill="#333" filter="url(#bl3)"/>
<ellipse cx="166.9" cy="116.5" rx="0.75" ry="1.05" transform="rotate(30 166.9 116.5)" fill="#444" filter="url(#bl3)"/>
<ellipse cx="185.5" cy="119.5" rx="1.9" ry="1.25" transform="rotate(-30 185.5 119.5)" fill="#333" filter="url(#bl3)"/>
<ellipse cx="188.4" cy="116.5" rx="0.75" ry="1.05" transform="rotate(30 188.4 116.5)" fill="#444" filter="url(#bl3)"/>
<ellipse cx="207.0" cy="119.5" rx="1.9" ry="1.25" transform="rotate(-30 207.0 119.5)" fill="#333" filter="url(#bl3)"/>
<ellipse cx="209.9" cy="116.5" rx="0.75" ry="1.05" transform="rotate(30 209.9 116.5)" fill="#444" filter="url(#bl3)"/>
<ellipse cx="228.5" cy="119.5" rx="1.9" ry="1.25" transform="rotate(-30 228.5 119.5)" fill="#333" filter="url(#bl3)"/>
<ellipse cx="231.4" cy="116.5" rx="0.75" ry="1.05" transform="rotate(30 231.4 116.5)" fill="#444" filter="url(#bl3)"/>
<ellipse cx="327.7" cy="120.6" rx="1.9" ry="1.25" transform="rotate(-30 327.7 120.6)" fill="#333" filter="url(#bl3)"/>
<ellipse cx="330.6" cy="117.6" rx="0.75" ry="1.05" transform="rotate(30 330.6 117.6)" fill="#444" filter="url(#bl3)"/>
<ellipse cx="349.0" cy="120.6" rx="1.9" ry="1.25" transform="rotate(-30 349.0 120.6)" fill="#333" filter="url(#bl3)"/>
<ellipse cx="351.9" cy="117.6" rx="0.75" ry="1.05" transform="rotate(30 351.9 117.6)" fill="#444" filter="url(#bl3)"/>
<ellipse cx="370.4" cy="120.6" rx="1.9" ry="1.25" transform="rotate(-30 370.4 120.6)" fill="#333" filter="url(#bl3)"/>
<ellipse cx="373.3" cy="117.6" rx="0.75" ry="1.05" transform="rotate(30 373.3 117.6)" fill="#444" filter="url(#bl3)"/>
<ellipse cx="391.8" cy="120.6" rx="1.9" ry="1.25" transform="rotate(-30 391.8 120.6)" fill="#333" filter="url(#bl3)"/>
<ellipse cx="394.7" cy="117.6" rx="0.75" ry="1.05" transform="rotate(30 394.7 117.6)" fill="#444" filter="url(#bl3)"/>
<ellipse cx="413.2" cy="120.6" rx="1.9" ry="1.25" transform="rotate(-30 413.2 120.6)" fill="#333" filter="url(#bl3)"/>
<ellipse cx="416.1" cy="117.6" rx="0.75" ry="1.05" transform="rotate(30 416.1 117.6)" fill="#444" filter="url(#bl3)"/>
<ellipse cx="429.5" cy="120.3" rx="1.9" ry="1.25" transform="rotate(-30 429.5 120.3)" fill="#333" filter="url(#bl3)"/>
<ellipse cx="432.4" cy="117.3" rx="0.75" ry="1.05" transform="rotate(30 432.4 117.3)" fill="#444" filter="url(#bl3)"/>
<ellipse cx="451.0" cy="120.3" rx="1.9" ry="1.25" transform="rotate(-30 451.0 120.3)" fill="#333" filter="url(#bl3)"/>
<ellipse cx="453.9" cy="117.3" rx="0.75" ry="1.05" transform="rotate(30 453.9 117.3)" fill="#444" filter="url(#bl3)"/>
<ellipse cx="472.4" cy="120.3" rx="1.9" ry="1.25" transform="rotate(-30 472.4 120.3)" fill="#333" filter="url(#bl3)"/>
<ellipse cx="475.3" cy="117.3" rx="0.75" ry="1.05" transform="rotate(30 475.3 117.3)" fill="#444" filter="url(#bl3)"/>
<ellipse cx="493.6" cy="120.3" rx="1.9" ry="1.25" transform="rotate(-30 493.6 120.3)" fill="#333" filter="url(#bl3)"/>
<ellipse cx="496.5" cy="117.3" rx="0.75" ry="1.05" transform="rotate(30 496.5 117.3)" fill="#444" filter="url(#bl3)"/>
<ellipse cx="513.7" cy="120.3" rx="1.9" ry="1.25" transform="rotate(-30 513.7 120.3)" fill="#333" filter="url(#bl3)"/>
<ellipse cx="516.6" cy="117.3" rx="0.75" ry="1.05" transform="rotate(30 516.6 117.3)" fill="#444" filter="url(#bl3)"/>
</svg>
</body></html>
